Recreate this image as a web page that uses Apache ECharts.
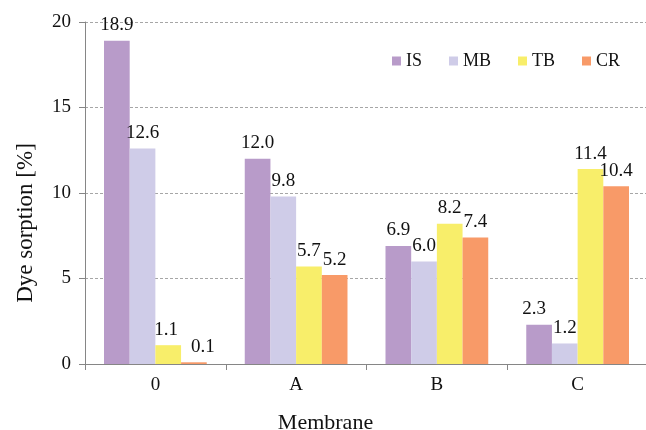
<!DOCTYPE html>
<html>
<head>
<meta charset="utf-8">
<script src="https://cdn.jsdelivr.net/npm/echarts@6/dist/echarts.min.js"></script>
<style>
  html, body { margin: 0; padding: 0; background: #fff; }
  #chart { width: 646px; height: 430px; }
</style>
</head>
<body>
<div id="chart"></div>
<script>
// Dye sorption per membrane, one series per dye
const membranes = ['0', 'A', 'B', 'C'];
const dyeNames = ['IS', 'MB', 'TB', 'CR'];
const valuesIS = [18.9, 12.0, 6.9, 2.3];
const valuesMB = [12.6, 9.8, 6.0, 1.2];
const valuesTB = [1.1, 5.7, 8.2, 11.4];
const valuesCR = [0.1, 5.2, 7.4, 10.4];
const yTicks = [0, 5, 10, 15, 20];

const dyeColors = ['#b89bc9', '#cfcce8', '#f8ee6a', '#f89a68'];
const seriesValues = [valuesIS, valuesMB, valuesTB, valuesCR];
const serif = "'Liberation Serif', 'Times New Roman', serif";
const ink = '#111';

// nudge a few value labels sideways so neighbouring labels stay clear
const labelShift = { 'IS-3': [-5, 0], 'TB-0': [-2, 0], 'CR-0': [9, 0] };

const chart = echarts.init(document.getElementById('chart'), null, { renderer: 'canvas' });

chart.setOption({
  animation: false,
  textStyle: { fontFamily: serif },
  grid: { left: 85, top: 22, width: 563, height: 342, outerBoundsMode: 'none' },
  legend: {
    data: dyeNames,
    right: 21,
    top: 47,
    itemWidth: 9,
    itemHeight: 9,
    itemGap: 27,
    icon: 'rect',
    textStyle: { fontFamily: serif, fontSize: 18, color: ink }
  },
  xAxis: {
    type: 'category',
    data: membranes,
    name: 'Membrane',
    nameLocation: 'middle',
    nameGap: 48,
    // padding on the right pulls the title left of the axis centre
    nameTextStyle: { fontFamily: serif, fontSize: 22, color: ink, padding: [0, 82, 0, 0] },
    axisLine: { lineStyle: { color: '#868686', width: 1 } },
    axisTick: { show: true, length: 6, lineStyle: { color: '#868686' } },
    axisLabel: { fontFamily: serif, fontSize: 19, color: ink, margin: 12 }
  },
  yAxis: {
    type: 'value',
    min: yTicks[0],
    max: yTicks[yTicks.length - 1],
    interval: 5,
    name: 'Dye sorption [%]',
    nameLocation: 'middle',
    nameGap: 48,
    // padding on the (rotated) right side moves the title down the axis
    nameTextStyle: { fontFamily: serif, fontSize: 23, color: ink, padding: [0, 60, 0, 0] },
    axisLine: { show: true, lineStyle: { color: '#868686', width: 1 } },
    axisTick: { show: true, length: 6, lineStyle: { color: '#868686' } },
    axisLabel: { fontFamily: serif, fontSize: 19, color: ink, margin: 14 },
    splitLine: { lineStyle: { color: '#a6a6a6', type: [3, 2], width: 1 } }
  },
  series: dyeNames.map((name, i) => ({
    name: name,
    type: 'bar',
    data: seriesValues[i].map((v, j) => {
      const shift = labelShift[name + '-' + j];
      return shift ? { value: v, label: { offset: shift } } : v;
    }),
    barGap: '0%',
    barCategoryGap: '27%',
    itemStyle: { color: dyeColors[i] },
    label: {
      show: true,
      position: 'top',
      distance: 6,
      fontFamily: serif,
      fontSize: 19,
      color: ink,
      formatter: p => p.value.toFixed(1)
    }
  }))
});
</script>
</body>
</html>
